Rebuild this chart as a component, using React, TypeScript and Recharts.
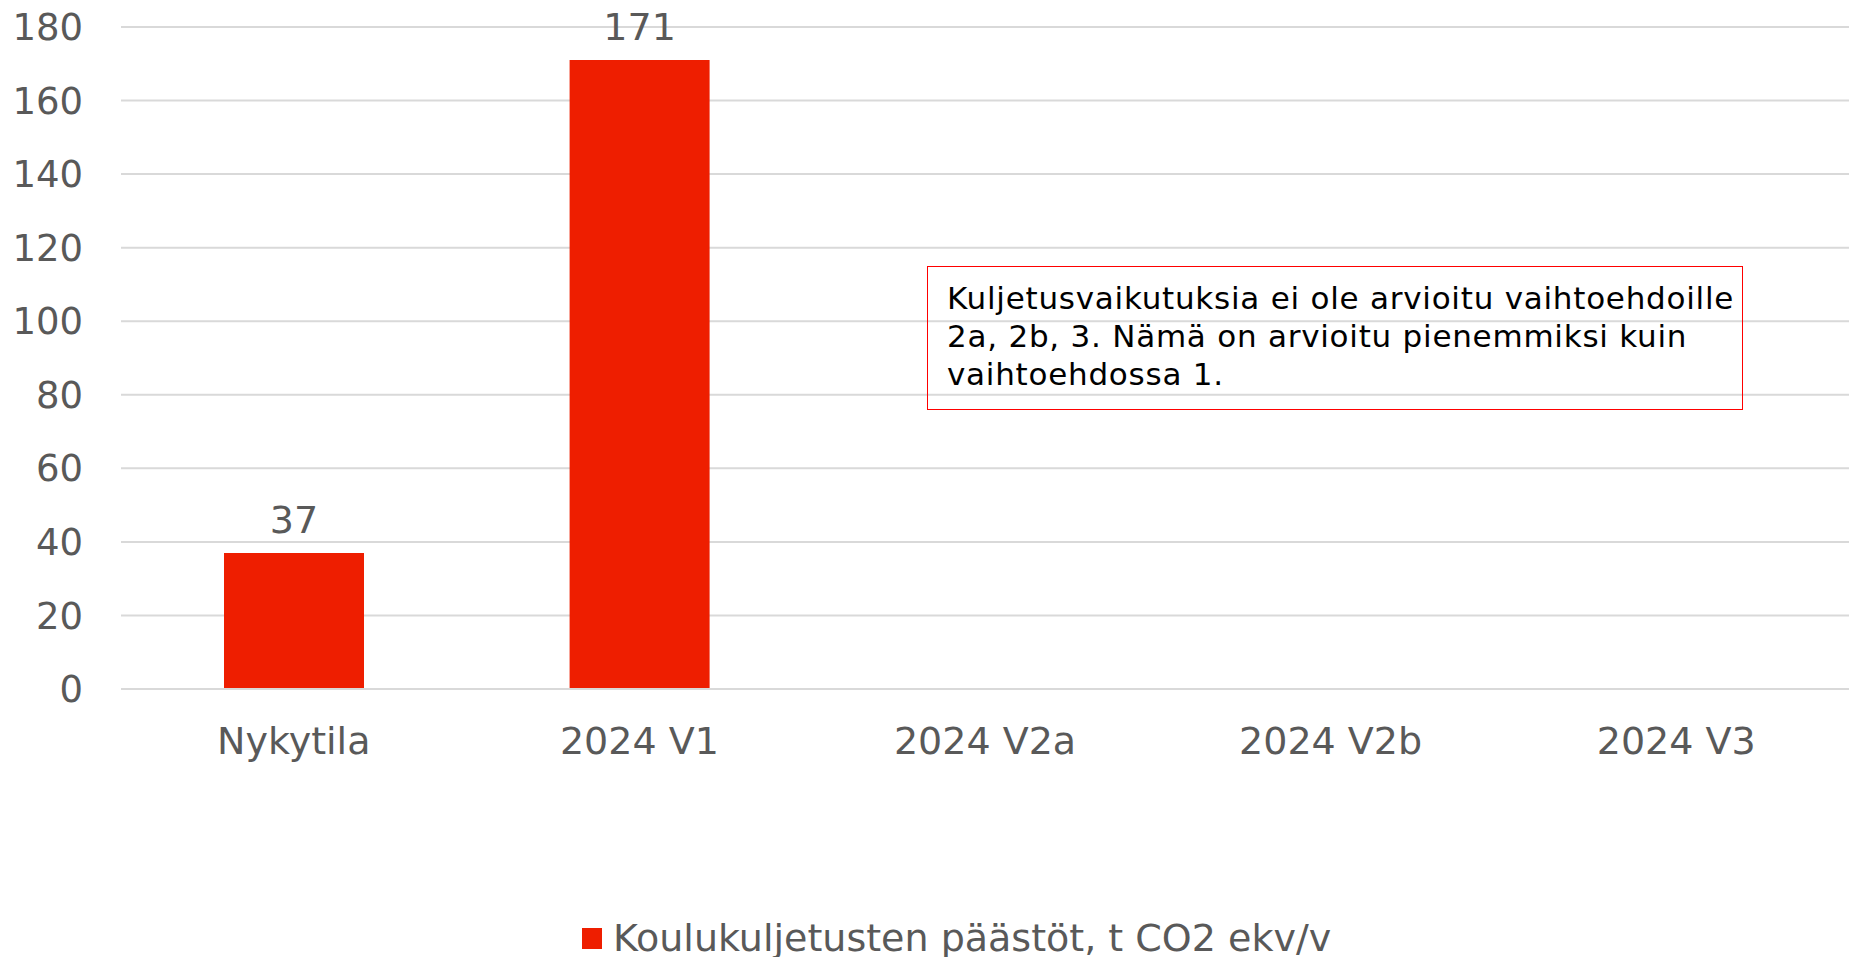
import { Bar, BarChart, CartesianGrid, LabelList, Legend, XAxis, YAxis } from "recharts";

const categories = ["Nykytila", "2024 V1", "2024 V2a", "2024 V2b", "2024 V3"];
const emissions = [37, 171, null, null, null];
const yTicks = [0, 20, 40, 60, 80, 100, 120, 140, 160, 180];

const seriesName = "Koulukuljetusten päästöt, t CO2 ekv/v";
const noteText =
  "Kuljetusvaikutuksia ei ole arvioitu vaihtoehdoille 2a, 2b, 3. Nämä on arvioitu pienemmiksi kuin vaihtoehdossa 1.";

const data = categories.map((name, i) => ({ name, value: emissions[i] }));

const FONT = "Verdana, 'DejaVu Sans', sans-serif";
const GREY = "#595959";
const RED = "#EE1E00";
const LEGEND_H = 40;

// legend drawn by hand: red square + label
const LegendContent = () => (
  <div style={{ display: "flex", alignItems: "center", height: LEGEND_H, fontFamily: FONT }}>
    <span style={{ width: 20, height: 21, background: RED, marginRight: 11 }} />
    <span style={{ fontSize: 38, color: GREY, lineHeight: `${LEGEND_H}px` }}>{seriesName}</span>
  </div>
);

export default function App() {
  return (
    <div style={{ position: "absolute", left: 0, top: 0, width: 1849, height: 957, background: "#fff" }}>
      <BarChart
        width={1849}
        height={957}
        data={data}
        margin={{ top: 27, right: 0, left: 0, bottom: 198 }}
      >
        <CartesianGrid vertical={false} stroke="#d9d9d9" strokeWidth={2} />
        <XAxis
          dataKey="name"
          axisLine={{ stroke: "#d9d9d9", strokeWidth: 2 }}
          tickLine={false}
          tickSize={0}
          tickMargin={38}
          tick={{ fill: GREY, fontSize: 38, fontFamily: FONT }}
        />
        <YAxis
          width={121}
          domain={[0, 180]}
          ticks={yTicks}
          axisLine={false}
          tickLine={false}
          tickSize={0}
          tickMargin={38}
          tick={{ fill: GREY, fontSize: 37, fontFamily: FONT }}
        />
        <Legend
          content={<LegendContent />}
          wrapperStyle={{ position: "absolute", left: 582, top: 918, width: "auto", height: LEGEND_H }}
        />
        <Bar dataKey="value" name={seriesName} fill={RED} barSize={140} isAnimationActive={false}>
          <LabelList
            dataKey="value"
            position="top"
            offset={20}
            fill={GREY}
            fontSize={38}
            fontFamily={FONT}
          />
        </Bar>
      </BarChart>
      <div
        style={{
          position: "absolute",
          left: 927,
          top: 266,
          width: 816,
          height: 144,
          boxSizing: "border-box",
          border: "1.5px solid #ff0000",
          padding: "12px 6px 0 19px",
          fontFamily: FONT,
          fontSize: 31,
          letterSpacing: 0.75,
          lineHeight: "38px",
          color: "#000",
        }}
      >
        {noteText}
      </div>
    </div>
  );
}
